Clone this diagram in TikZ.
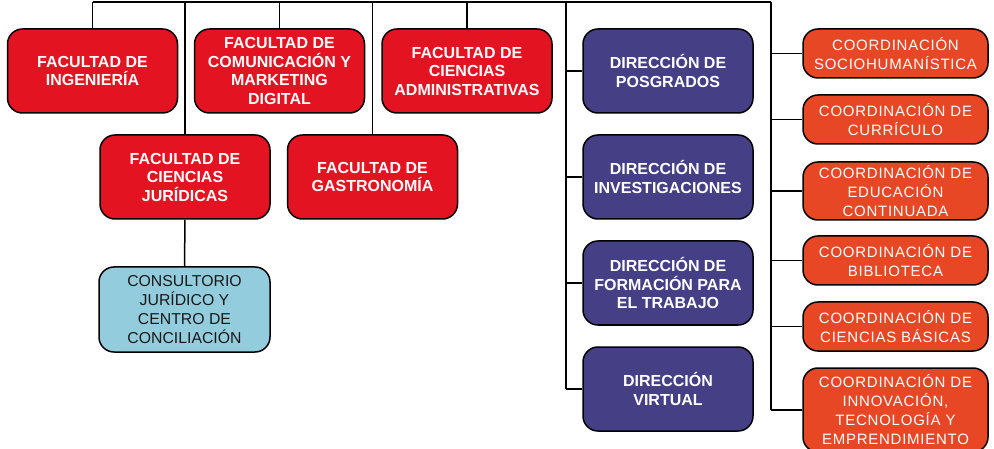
\documentclass[tikz,border=0pt]{standalone}
\usepackage{fontspec}
\setmainfont{Liberation Sans}
\newfontfamily\coordfont[LetterSpace=5]{Liberation Sans}
\definecolor{facred}{HTML}{E31322}
\definecolor{dirblue}{HTML}{453F85}
\definecolor{coordorange}{HTML}{E84726}
\definecolor{consblue}{HTML}{93CDDD}
\begin{document}
\begin{tikzpicture}[x=1pt,y=-1pt,
  box/.style={draw=black, line width=1.5pt, rounded corners=15pt, align=center, inner sep=0pt},
  fac/.style={box, fill=facred, text=white, font=\bfseries\fontsize{16}{18.5}\selectfont, minimum width=170pt, minimum height=84pt},
  dir/.style={box, fill=dirblue, text=white, font=\bfseries\fontsize{16}{18.5}\selectfont, minimum width=170pt, minimum height=84pt},
  coord/.style={box, fill=coordorange, text=white, font=\coordfont\fontsize{15}{19}\selectfont, minimum width=185pt, minimum height=49pt},
  cons/.style={box, fill=consblue, text=black!90, font=\fontsize{15.8}{19}\selectfont, minimum width=171pt, minimum height=85pt},
  link/.style={draw=black, line width=1.5pt},
  thick link/.style={draw=black, line width=2.5pt}
]
\useasboundingbox (0,0) rectangle (994,449);

% faculties
\node[fac] (ing) at (92.5,71) {FACULTAD DE\\INGENIERÍA};
\node[fac] (com) at (279.5,71) {FACULTAD DE\\COMUNICACIÓN Y\\MARKETING\\DIGITAL};
\node[fac] (adm) at (467,71) {FACULTAD DE\\CIENCIAS\\ADMINISTRATIVAS};
\node[fac] (jur) at (185,177) {FACULTAD DE\\CIENCIAS\\JURÍDICAS};
\node[fac] (gas) at (372.5,177) {FACULTAD DE\\GASTRONOMÍA};
\node[cons] (con) at (184.5,309.5) {CONSULTORIO\\JURÍDICO Y\\CENTRO DE\\CONCILIACIÓN};

% direcciones
\node[dir] (pos) at (668,71) {DIRECCIÓN DE\\POSGRADOS};
\node[dir] (inv) at (668,177) {DIRECCIÓN DE\\INVESTIGACIONES};
\node[dir] (for) at (668,283) {DIRECCIÓN DE\\FORMACIÓN PARA\\EL TRABAJO};
\node[dir] (vir) at (668,389) {DIRECCIÓN\\VIRTUAL};

% coordinaciones
\node[coord] (soc) at (895.5,53.5) {COORDINACIÓN\\SOCIOHUMANÍSTICA};
\node[coord] (cur) at (895.5,119.5) {COORDINACIÓN DE\\CURRÍCULO};
\node[coord, minimum height=58pt] (edu) at (895.5,191) {COORDINACIÓN DE\\EDUCACIÓN\\CONTINUADA};
\node[coord] (bib) at (895.5,260.5) {COORDINACIÓN DE\\BIBLIOTECA};
\node[coord] (cb) at (895.5,326.5) {COORDINACIÓN DE\\CIENCIAS BÁSICAS};
\node[coord, minimum height=84pt] (inn) at (895.5,410) {COORDINACIÓN  DE\\INNOVACIÓN,\\TECNOLOGÍA Y\\EMPRENDIMIENTO};

% top bus
\coordinate (t1) at (92.5,2);
\coordinate (t2) at (185,2);
\coordinate (t3) at (279.5,2);
\coordinate (t4) at (372.5,2);
\coordinate (t5) at (467,2);
\coordinate (t6) at (566,2);
\coordinate (t7) at (771,2);
\coordinate (d1) at (566,71);
\coordinate (d2) at (566,177);
\coordinate (d3) at (566,283);
\coordinate (d4) at (566,389);
\coordinate (c1) at (771,53.5);
\coordinate (c2) at (771,119.5);
\coordinate (c3) at (771,191);
\coordinate (c4) at (771,260.5);
\coordinate (c5) at (771,326.5);
\coordinate (c6) at (771,410);

\draw[link] (t1) -- (t3);
\draw[thick link] (t3) -- (t7);
\draw[link] (t1) -- (ing.north);
\draw[link] (t2) -- (jur.north);
\draw[link] (t3) -- (com.north);
\draw[link] (t4) -- (gas.north);
\draw[link] (t5) -- (adm.north);
\draw[link] (jur.south) -- (con.north);

\draw[link] (t6) -- (d4);
\draw[link] (d1) -- (pos.west);
\draw[link] (d2) -- (inv.west);
\draw[link] (d3) -- (for.west);
\draw[link] (d4) -- (vir.west);

\draw[thick link] (t7) -- (c6);
\draw[link] (c1) -- (soc.west);
\draw[link] (c2) -- (cur.west);
\draw[link] (c3) -- (edu.west);
\draw[link] (c4) -- (bib.west);
\draw[link] (c5) -- (cb.west);
\draw[link] (c6) -- (inn.west);
\end{tikzpicture}
\end{document}
